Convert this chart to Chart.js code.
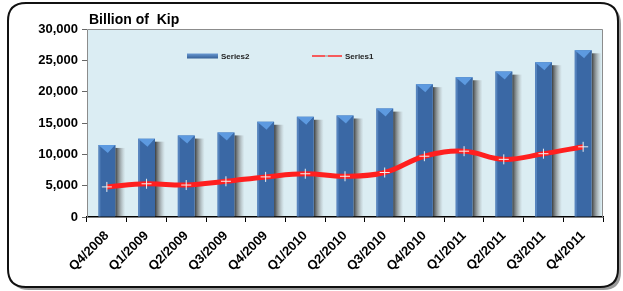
<!DOCTYPE html>
<html>
<head>
<meta charset="utf-8">
<script src="https://cdn.jsdelivr.net/npm/chart.js@4/dist/chart.umd.min.js"></script>
<style>
  html, body { margin: 0; padding: 0; background: #fff; }
  #wrap { width: 623px; height: 291px; }
</style>
</head>
<body>
<div id="wrap"><canvas id="grafico"></canvas></div>
<script>
// categorias e valores
const trimestres = ["Q4/2008", "Q1/2009", "Q2/2009", "Q3/2009", "Q4/2009", "Q1/2010",
  "Q2/2010", "Q3/2010", "Q4/2010", "Q1/2011", "Q2/2011", "Q3/2011", "Q4/2011"];
const serie2 = [11500, 12500, 13000, 13500, 15200, 16000, 16200, 17300, 21200, 22300, 23200, 24700, 26600];
const serie1 = [4800, 5300, 5100, 5700, 6400, 6900, 6500, 7100, 9700, 10500, 9200, 10100, 11200];
const tituloEixo = "Billion of  Kip";

const FONTE = "'Liberation Sans', Arial, sans-serif";

function retanguloArredondado(ctx, x, y, w, h, r) {
  ctx.beginPath();
  ctx.moveTo(x + r, y);
  ctx.lineTo(x + w - r, y);
  ctx.quadraticCurveTo(x + w, y, x + w, y + r);
  ctx.lineTo(x + w, y + h - r);
  ctx.quadraticCurveTo(x + w, y + h, x + w - r, y + h);
  ctx.lineTo(x + r, y + h);
  ctx.quadraticCurveTo(x, y + h, x, y + h - r);
  ctx.lineTo(x, y + r);
  ctx.quadraticCurveTo(x, y, x + r, y);
  ctx.closePath();
}

// moldura, fundo da área do gráfico, sombras e topos 3D das barras
const enfeites = {
  id: "enfeites",
  beforeDraw(chart) {
    const ctx = chart.ctx, a = chart.chartArea;
    ctx.save();
    // sombra da moldura
    retanguloArredondado(ctx, 11, 6, 610, 284, 18);
    ctx.fillStyle = "#9a9a9a";
    ctx.fill();
    retanguloArredondado(ctx, 8, 3, 610, 284, 18);
    ctx.fillStyle = "#fff";
    ctx.fill();
    ctx.lineWidth = 2;
    ctx.strokeStyle = "#111";
    ctx.stroke();
    // fundo
    ctx.fillStyle = "#dbedf3";
    ctx.fillRect(a.left, a.top, a.right - a.left, a.bottom - a.top);
    ctx.restore();
  },
  beforeDatasetsDraw(chart) {
    const ctx = chart.ctx;
    const meta = chart.getDatasetMeta(0);
    ctx.save();
    meta.data.forEach(bar => {
      const x = bar.x + bar.width / 2;
      if (!Number.isFinite(x)) return;
      const g = ctx.createLinearGradient(x, 0, x + 10, 0);
      g.addColorStop(0, "rgba(30,30,30,0.85)");
      g.addColorStop(0.5, "rgba(90,90,90,0.45)");
      g.addColorStop(1, "rgba(140,140,140,0)");
      ctx.fillStyle = g;
      ctx.fillRect(x, bar.y + 3, 10, bar.base - bar.y - 3);
    });
    ctx.restore();
  },
  afterDatasetDraw(chart, args) {
    if (args.index !== 0) return;
    const ctx = chart.ctx;
    ctx.save();
    args.meta.data.forEach(bar => {
      const l = bar.x - bar.width / 2, r = bar.x + bar.width / 2;
      if (!Number.isFinite(l)) return;
      // faixa clara à esquerda
      ctx.fillStyle = "rgba(120,165,220,0.45)";
      ctx.fillRect(l, bar.y, 2, bar.base - bar.y);
      // topo em pirâmide
      ctx.beginPath();
      ctx.moveTo(l, bar.y);
      ctx.lineTo(r, bar.y);
      ctx.lineTo(bar.x + 1, bar.y + 8);
      ctx.closePath();
      ctx.fillStyle = "#5d9ae0";
      ctx.fill();
      ctx.beginPath();
      ctx.moveTo(r, bar.y);
      ctx.lineTo(bar.x + 1, bar.y + 8);
      ctx.lineTo(r, bar.y + 3);
      ctx.closePath();
      ctx.fillStyle = "#3b6aa6";
      ctx.fill();
    });
    ctx.restore();
  },
  afterDraw(chart) {
    const ctx = chart.ctx, a = chart.chartArea;
    ctx.save();
    // borda da área
    ctx.strokeStyle = "#8c8c8c";
    ctx.lineWidth = 1;
    ctx.beginPath();
    ctx.moveTo(a.left + 0.5, a.bottom);
    ctx.lineTo(a.left + 0.5, a.top + 0.5);
    ctx.lineTo(a.right - 0.5, a.top + 0.5);
    ctx.lineTo(a.right - 0.5, a.bottom);
    ctx.stroke();
    // título
    ctx.fillStyle = "#000";
    ctx.font = "bold 14px " + FONTE;
    ctx.textBaseline = "alphabetic";
    ctx.fillText(tituloEixo, 89, 24);
    // legenda dentro da área
    const ds = chart.data.datasets;
    ctx.font = "bold 8px " + FONTE;
    ctx.textBaseline = "middle";
    const ly = 56;
    const g = ctx.createLinearGradient(0, ly - 3, 0, ly + 3);
    g.addColorStop(0, "#6f9fd8");
    g.addColorStop(1, "#2f5a90");
    ctx.fillStyle = g;
    ctx.fillRect(187, ly - 2.5, 31, 5);
    ctx.fillStyle = "#222";
    ctx.fillText(ds[0].label, 221, ly + 0.5);
    ctx.strokeStyle = "#ff2a2a";
    ctx.lineWidth = 1.5;
    ctx.beginPath();
    ctx.moveTo(312, ly);
    ctx.lineTo(342, ly);
    ctx.stroke();
    ctx.fillStyle = "#bbb";
    ctx.fillRect(325, ly - 1, 3, 2);
    ctx.fillStyle = "#222";
    ctx.fillText(ds[1].label, 345, ly + 0.5);
    ctx.restore();
  }
};

function corBarra(c) {
  const el = c.element;
  const fallback = "#3a68a5";
  if (!el || !c.chart.chartArea) return fallback;
  const w = el.width, x = el.x;
  if (!Number.isFinite(w) || !Number.isFinite(x) || w <= 0) return fallback;
  const l = x - w / 2;
  const g = c.chart.ctx.createLinearGradient(l, 0, l + w, 0);
  g.addColorStop(0, "#4a7ec0");
  g.addColorStop(0.55, "#3a6aaa");
  g.addColorStop(0.6, "#2e5488");
  g.addColorStop(1, "#2a4d7d");
  return g;
}

const config = {
  data: {
    labels: trimestres,
    datasets: [
      {
        type: "bar",
        label: "Series2",
        data: serie2,
        order: 2,
        barPercentage: 0.82,
        categoryPercentage: 0.52,
        backgroundColor: corBarra,
        borderWidth: 0
      },
      {
        type: "line",
        label: "Series1",
        data: serie1,
        order: 1,
        borderColor: "#ff1f1f",
        borderWidth: 5,
        tension: 0.4,
        pointStyle: "cross",
        pointRadius: 5,
        pointBorderColor: "#f0f0f0",
        pointBorderWidth: 1,
        pointBackgroundColor: "#f0f0f0"
      }
    ]
  },
  options: {
    responsive: true,
    maintainAspectRatio: false,
    animation: false,
    layout: { padding: { left: 20, right: 20, top: 29, bottom: 0 } },
    plugins: {
      legend: { display: false },
      tooltip: { enabled: false }
    },
    scales: {
      x: {
        offset: true,
        afterFit: (s) => { s.height = 74; },
        grid: { offset: true, drawOnChartArea: false, tickLength: 5, color: "#000" },
        border: { color: "#000", width: 1.5 },
        ticks: {
          color: "#000",
          maxRotation: 45,
          minRotation: 45,
          padding: 6,
          font: { family: FONTE, size: 13, weight: "bold" }
        }
      },
      y: {
        min: 0,
        max: 30000,
        afterFit: (s) => { s.width = 67; },
        grid: { drawOnChartArea: false, tickLength: 5, color: "#666" },
        border: { display: false },
        ticks: {
          stepSize: 5000,
          color: "#000",
          padding: 4,
          font: { family: FONTE, size: 13, weight: "bold" },
          callback: (v) => v.toLocaleString("en-US")
        }
      }
    }
  },
  plugins: [enfeites]
};

const ctx = document.getElementById("grafico").getContext("2d");
new Chart(ctx, config);
</script>
</body>
</html>
